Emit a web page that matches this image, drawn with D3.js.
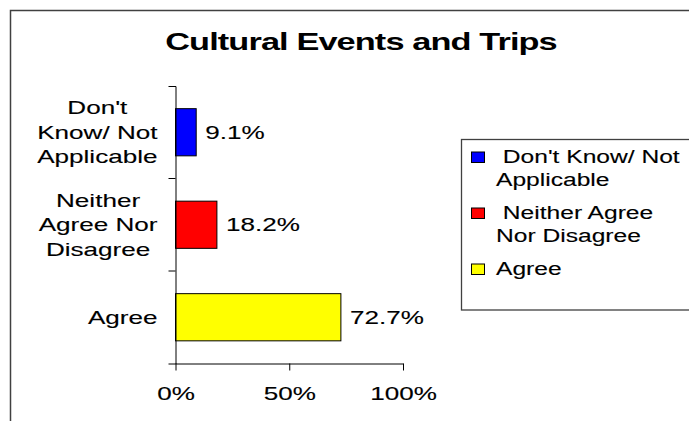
<!DOCTYPE html>
<html>
<head>
<meta charset="utf-8">
<script src="https://cdn.jsdelivr.net/npm/d3@7"></script>
<style>
  html, body { margin: 0; padding: 0; background: #fff; }
  svg { display: block; }
  text { font-family: "Liberation Sans", Arial, Helvetica, sans-serif; fill: #000; white-space: pre; }
  text.body { stroke: #000; stroke-width: 0.12px; }
</style>
</head>
<body>
<script>
// Survey responses: share of respondents per answer
const categories = ["Don't Know/ Not Applicable", "Neither Agree Nor Disagree", "Agree"];
const categoryLines = [["Don't", "Know/ Not", "Applicable"], ["Neither", "Agree Nor", "Disagree"], ["Agree"]];
const values = [0.091, 0.182, 0.727];
const colors = ["#0000FF", "#FF0000", "#FFFF00"];
const legendLines = [[" Don't Know/ Not", "Applicable"], [" Neither Agree", "Nor Disagree"], ["Agree"]];
const xTicks = [0, 0.5, 1];
const title = "Cultural Events and Trips";

const W = 689, H = 421;
const FS = 18.5;          // body font size
const SX = 1.41;          // horizontal glyph stretch of body text
const LEG_SX = 1.33;      // legend text stretch
const TITLE_FS = 23.5;
const TITLE_SX = 1.46;

const svg = d3.select("body").append("svg").attr("width", W).attr("height", H);

// chart frame
svg.append("rect")
  .attr("x", 10.5).attr("y", 10.5).attr("width", W + 50).attr("height", H + 50)
  .attr("fill", "#fff").attr("stroke", "#404040").attr("stroke-width", 1.5);

// title
svg.append("g").attr("transform", `translate(361,50) scale(${TITLE_SX},1)`)
  .append("text").attr("text-anchor", "middle")
  .attr("font-size", TITLE_FS).attr("font-weight", "bold")
  .attr("letter-spacing", -0.6).text(title);

const plot = { left: 175.5, right: 403, top: 86, bottom: 363.5 };

const x = d3.scaleLinear().domain([0, 1]).range([plot.left, plot.right]);
const y = d3.scaleBand().domain(categories).range([plot.top, plot.bottom])
  .paddingInner(0.49).paddingOuter(0.245);
const step = y.step();

// bars
svg.append("g").selectAll("rect").data(values).join("rect")
  .attr("x", x(0))
  .attr("y", (d, i) => y(categories[i]))
  .attr("width", d => x(d) - x(0))
  .attr("height", y.bandwidth())
  .attr("fill", (d, i) => colors[i])
  .attr("stroke", "#000").attr("stroke-width", 1);

// value labels
svg.append("g").selectAll("g").data(values).join("g")
  .attr("transform", (d, i) => `translate(${x(d) + 9},${y(categories[i]) + y.bandwidth() / 2 + 0.35 * FS}) scale(${SX},1)`)
  .append("text").attr("class", "body").attr("font-size", FS).text(d => d3.format(".1%")(d));

// y axis (outer ticks at the ends, inner ticks between categories)
const yAxis = svg.append("g").attr("transform", `translate(${plot.left},0)`)
  .call(d3.axisLeft(y).tickSize(0).tickSizeOuter(7).tickFormat(""));
yAxis.selectAll(".tick").remove();
yAxis.selectAll("line.sep").data(categories.slice(1)).join("line")
  .attr("class", "sep")
  .attr("x1", -7).attr("x2", 0)
  .attr("y1", d => y(d) - y.paddingInner() * step / 2)
  .attr("y2", d => y(d) - y.paddingInner() * step / 2)
  .attr("stroke", "#000");

// x axis
const xAxis = svg.append("g").attr("transform", `translate(0,${plot.bottom})`)
  .call(d3.axisBottom(x).tickValues(xTicks).tickFormat(d3.format(".0%")).tickSize(7).tickSizeOuter(0));
xAxis.selectAll("text")
  .attr("class", "body")
  .attr("y", 36.5).attr("dy", 0)
  .attr("font-size", FS).attr("font-family", null).attr("fill", "#000")
  .attr("transform", `scale(${SX},1)`);
svg.selectAll(".domain, .tick line").attr("stroke", "#000");

// category labels: lines centred within a block that sits right-aligned to the axis
const labelRight = 157.5;
const lineH = 24.5;
categoryLines.forEach((lines, i) => {
  const cy = y(categories[i]) + y.bandwidth() / 2;
  const g = svg.append("g");
  const inner = g.append("g").attr("transform", `scale(${SX},1)`);
  const t = inner.selectAll("text").data(lines).join("text")
    .attr("class", "body")
    .attr("font-size", FS).attr("text-anchor", "middle")
    .attr("y", (d, j) => (j - (lines.length - 1) / 2) * lineH + 0.35 * FS)
    .text(d => d);
  const maxW = d3.max(t.nodes(), n => n.getComputedTextLength()) * SX;
  g.attr("transform", `translate(${labelRight - maxW / 2},${cy})`);
});

// legend
const legend = svg.append("g");
legend.append("rect")
  .attr("x", 461.5).attr("y", 139.5).attr("width", 300).attr("height", 170.5)
  .attr("fill", "#fff").attr("stroke", "#404040").attr("stroke-width", 1.3);

const legLineH = 23, legGap = 33, legTextX = 496;
let baseY = 163;
legendLines.forEach((lines, i) => {
  legend.append("rect")
    .attr("x", 471.5).attr("y", baseY - 11).attr("width", 13).attr("height", 10.5)
    .attr("fill", colors[i]).attr("stroke", "#000").attr("stroke-width", 1);
  lines.forEach((ln, j) => {
    legend.append("g").attr("transform", `translate(${legTextX},${baseY + j * legLineH}) scale(${LEG_SX},1)`)
      .append("text").attr("class", "body").attr("font-size", FS).text(ln);
  });
  baseY += (lines.length - 1) * legLineH + legGap;
});
</script>
</body>
</html>
